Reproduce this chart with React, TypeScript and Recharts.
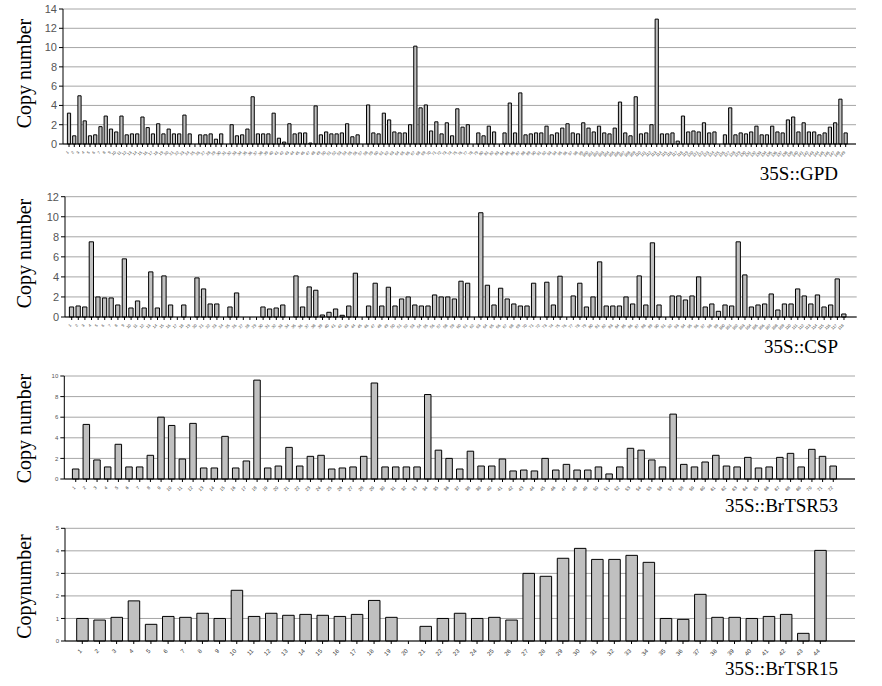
import { BarChart, Bar, XAxis, YAxis, CartesianGrid } from 'recharts';

// copy number per line (null = no bar)
const GPD_VALUES = [
  3.2, 0.85, 5.0, 2.4, 0.85, 0.95, 1.8, 2.9, 1.55, 1.25,
  2.9, 0.95, 1.05, 1.05, 2.8, 1.7, 1.05, 2.1, 1.05, 1.55,
  1.05, 1.05, 3.0, 1.05, null, 0.95, 0.95, 1.05, 0.5, 1.05,
  null, 2.0, 0.85, 0.95, 1.55, 4.9, 1.05, 1.05, 1.05, 3.2,
  0.6, 0.2, 2.1, 1.05, 1.15, 1.15, 0.1, 3.95, 0.95, 1.25,
  1.05, 1.05, 1.15, 2.1, 0.75, 0.95, null, 4.05, 1.15, 1.05,
  3.2, 2.5, 1.25, 1.15, 1.15, 2.0, 10.15, 3.75, 4.05, 1.35,
  2.3, 1.05, 2.2, 0.85, 3.65, 1.75, 2.0, null, 1.15, 0.85,
  1.85, 1.25, null, 1.15, 4.25, 1.15, 5.3, 0.95, 1.05, 1.15,
  1.15, 1.85, 0.95, 1.15, 1.65, 2.1, 1.15, 1.05, 2.2, 1.65,
  1.25, 1.85, 1.15, 1.05, 1.65, 4.35, 1.15, 0.85, 4.9, 1.05,
  1.15, 2.0, 12.95, 1.05, 1.05, 1.15, 0.3, 2.9, 1.25, 1.35,
  1.25, 2.2, 1.15, 1.25, null, 0.95, 3.75, 0.95, 1.15, 1.05,
  1.25, 1.85, 0.95, 0.95, 1.85, 1.25, 1.15, 2.5, 2.8, 1.25,
  2.2, 1.25, 1.25, 0.95, 1.15, 1.75, 2.2, 4.65, 1.15,
];

const CSP_VALUES = [
  1.0, 1.1, 1.0, 7.5, 2.0, 1.9, 1.9, 1.2, 5.8, 0.9,
  1.6, 0.9, 4.5, 0.9, 4.1, 1.2, null, 1.2, null, 3.9,
  2.8, 1.3, 1.3, null, 1.0, 2.4, null, null, null, 1.0,
  0.8, 0.9, 1.2, null, 4.1, 1.0, 3.0, 2.67, 0.2, 0.47,
  0.8, 0.17, 1.1, 4.37, null, 1.1, 3.37, 1.1, 2.97, 1.1,
  1.8, 2.0, 1.2, 1.1, 1.1, 2.2, 2.0, 2.0, 1.8, 3.57,
  3.37, null, 10.4, 3.17, 1.2, 2.87, 1.8, 1.3, 1.1, 1.1,
  3.37, null, 3.47, 1.2, 4.07, null, 2.1, 3.37, 1.0, 2.0,
  5.5, 1.1, 1.1, 1.1, 2.0, 1.3, 4.1, 1.2, 7.4, 1.2,
  null, 2.1, 2.1, 1.7, 2.1, 4.0, 1.0, 1.3, 0.57, 1.2,
  1.1, 7.5, 4.2, 1.0, 1.2, 1.3, 2.3, 0.7, 1.3, 1.3,
  2.8, 2.1, 1.3, 2.2, 1.0, 1.2, 3.8, 0.3,
];

const TSR53_VALUES = [
  0.97, 5.3, 1.85, 1.17, 3.37, 1.17, 1.17, 2.3, 6.0, 5.2,
  1.94, 5.4, 1.07, 1.07, 4.14, 1.07, 1.75, 9.6, 1.07, 1.26,
  3.07, 1.26, 2.2, 2.3, 0.97, 1.07, 1.17, 2.2, 9.32, 1.17,
  1.17, 1.17, 1.17, 8.2, 2.8, 2.0, 0.97, 2.7, 1.26, 1.26,
  1.94, 0.78, 0.87, 0.78, 2.0, 0.87, 1.42, 0.87, 0.87, 1.17,
  0.49, 1.17, 2.98, 2.8, 1.85, 1.17, 6.3, 1.42, 1.17, 1.65,
  2.3, 1.26, 1.17, 2.1, 1.07, 1.17, 2.1, 2.49, 1.17, 2.88,
  2.2, 1.26,
];

const TSR15_VALUES = [
  1.0, 0.93, 1.05, 1.78, 0.74, 1.09, 1.05, 1.23, 1.0, 2.25,
  1.09, 1.23, 1.14, 1.18, 1.14, 1.09, 1.18, 1.8, 1.05, null,
  0.65, 1.0, 1.23, 1.0, 1.05, 0.93, 3.0, 2.87, 3.67, 4.11,
  3.62, 3.62, 3.8, 3.49, 1.0, 0.96, 2.07, 1.05, 1.05, 1.0,
  1.09, 1.18, 0.34, 4.02,
];

const GPD_TICKS = [0, 2, 4, 6, 8, 10, 12, 14];
const CSP_TICKS = [0, 2, 4, 6, 8, 10, 12];
const TSR53_TICKS = [0, 2, 4, 6, 8, 10];
const TSR15_TICKS = [0, 1, 2, 3, 4, 5];

const TITLES = ['35S::GPD', '35S::CSP', '35S::BrTSR53', '35S::BrTSR15'];
const Y_LABELS = ['Copy number', 'Copy number', 'Copy number', 'Copynumber'];

const toRows = (values: (number | null)[]) =>
  values.map((v, i) => ({ line: String(i + 1), copies: v }));

const XTick = ({ x, y, payload, size }: any) => {
  const ty = y + size * 0.9;
  return (
    <text
      x={x}
      y={ty}
      transform={`rotate(-45 ${x} ${ty})`}
      textAnchor="end"
      fontSize={size}
      fill="#333"
      fontFamily="Liberation Sans, Arial"
    >
      {payload.value}
    </text>
  );
};

function Panel({ top, height, values, ticks, mTop, mRight, yWidth, pad, barSize, yFont, xFont, xHeight }: any) {
  const rows = toRows(values);
  return (
    <div style={{ position: 'absolute', left: 0, top }}>
      <BarChart
        width={882}
        height={height}
        data={rows}
        margin={{ top: mTop, right: mRight, bottom: 2, left: 0 }}
        barCategoryGap={0}
      >
        <CartesianGrid vertical={false} stroke="#a6a6a6" />
        <XAxis
          dataKey="line"
          interval={0}
          height={xHeight}
          padding={pad}
          axisLine={{ stroke: '#000' }}
          tickLine={{ stroke: '#000' }}
          tickSize={3}
          tick={<XTick size={xFont} />}
        />
        <YAxis
          width={yWidth}
          domain={[0, ticks[ticks.length - 1]]}
          ticks={ticks}
          interval={0}
          axisLine={{ stroke: '#000' }}
          tickLine={{ stroke: '#000' }}
          tickSize={4}
          tick={{ fontSize: yFont, fill: '#555', fontFamily: 'Liberation Sans, Arial' }}
        />
        <Bar dataKey="copies" fill="#c0c0c0" stroke="#000" strokeWidth={1} barSize={barSize} isAnimationActive={false} />
      </BarChart>
    </div>
  );
}

const LABEL_Y = [73.5, 253.5, 428.5, 586.5];
const TITLE_Y = [180, 353, 512, 675];

export default function App() {
  return (
    <div style={{ position: 'absolute', left: 0, top: 0, width: 882, height: 686, background: '#fff' }}>
      <Panel top={0} height={160} values={GPD_VALUES} ticks={GPD_TICKS} mTop={9} mRight={26} yWidth={63}
        pad={{ left: 3.4, right: 7.7 }} barSize={3.2} yFont={11} xFont={4} xHeight={14} />
      <Panel top={185} height={148} values={CSP_VALUES} ticks={CSP_TICKS} mTop={11.7} mRight={25.3} yWidth={65}
        pad={{ left: 3.4, right: 9.4 }} barSize={4.3} yFont={11} xFont={4} xHeight={14} />
      <Panel top={365} height={130} values={TSR53_VALUES} ticks={TSR53_TICKS} mTop={11} mRight={27} yWidth={64.3}
        pad={{ left: 6.1, right: 16.4 }} barSize={6.5} yFont={6} xFont={4.5} xHeight={14} />
      <Panel top={520} height={143} values={TSR15_VALUES} ticks={TSR15_TICKS} mTop={8.3} mRight={27} yWidth={65}
        pad={{ left: 8.7, right: 26.1 }} barSize={11.5} yFont={6} xFont={6} xHeight={20} />
      <svg width={882} height={686} style={{ position: 'absolute', left: 0, top: 0, pointerEvents: 'none' }}>
        {Y_LABELS.map((t, i) => (
          <text key={'y' + i} x={31} y={LABEL_Y[i]} transform={`rotate(-90 31 ${LABEL_Y[i]})`}
            textAnchor="middle" fontSize={20} fontFamily="Liberation Serif, Times New Roman" fill="#000">
            {t}
          </text>
        ))}
        {TITLES.map((t, i) => (
          <text key={'t' + i} x={838} y={TITLE_Y[i]} textAnchor="end" fontSize={19}
            fontFamily="Liberation Serif, Times New Roman" fill="#000">
            {t}
          </text>
        ))}
      </svg>
    </div>
  );
}
